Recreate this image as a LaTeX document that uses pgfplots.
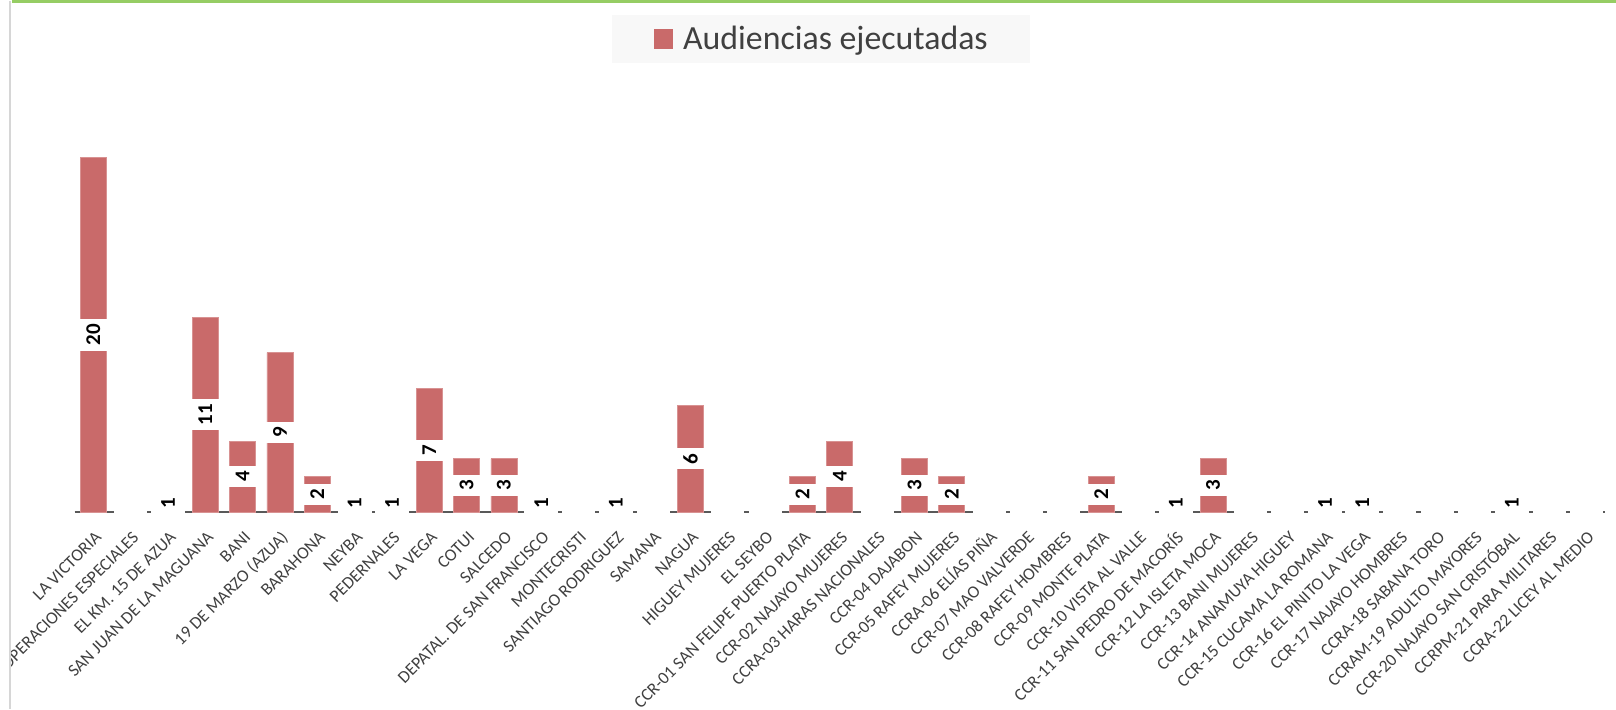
\documentclass[border=0pt]{standalone}
\usepackage{pgfplots}
\pgfplotsset{compat=1.18}
\usepackage{pgfplotstable}
\usepackage{fontspec}
\setmainfont{Carlito}
\definecolor{barc}{RGB}{201,106,106}
\definecolor{baredge}{RGB}{216,146,146}
\definecolor{axisc}{RGB}{89,89,89}
\definecolor{txt}{RGB}{64,64,64}
\definecolor{greenl}{RGB}{150,205,100}
\definecolor{leftl}{RGB}{214,214,214}
\definecolor{legfill}{RGB}{248,248,248}

\pgfplotstableread{
x v
0 20
1 0
2 1
3 11
4 4
5 9
6 2
7 1
8 1
9 7
10 3
11 3
12 1
13 0
14 1
15 0
16 6
17 0
18 0
19 2
20 4
21 0
22 3
23 2
24 0
25 0
26 0
27 2
28 0
29 1
30 3
31 0
32 0
33 1
34 1
35 0
36 0
37 0
38 1
39 0
40 0
}\data

\begin{document}
\begin{tikzpicture}
\useasboundingbox (0,0) rectangle (808pt,354.5pt);
\fill[white] (0,0) rectangle (808pt,354.5pt);
\begin{scope}
\clip (5.5pt,0) rectangle (808pt,354.5pt);
\begin{axis}[
  at={(37.35pt,98.5pt)}, anchor=south west,
  scale only axis, width=765.15pt, height=212.5pt,
  xmin=-0.5, xmax=40.5, ymin=0, ymax=24,
  clip=false,
  axis x line=bottom, axis y line=none,
  x axis line style={draw=axisc, line width=1.25pt, -},
  xtick={0,...,40}, ytick=\empty,
  xtick style={draw=none},
  xticklabels={LA VICTORIA,OPERACIONES ESPECIALES,EL KM. 15 DE AZUA,SAN JUAN DE LA MAGUANA,BANI,19 DE MARZO (AZUA),BARAHONA,NEYBA,PEDERNALES,LA VEGA,COTUI,SALCEDO,DEPATAL. DE SAN FRANCISCO,MONTECRISTI,SANTIAGO RODRIGUEZ,SAMANA,NAGUA,HIGUEY MUJERES,EL SEYBO,CCR-01 SAN FELIPE PUERTO PLATA,CCR-02 NAJAYO MUJERES,CCRA-03 HARAS NACIONALES,CCR-04 DAJABON,CCR-05 RAFEY MUJERES,CCRA-06 ELÍAS PIÑA,CCR-07 MAO VALVERDE,CCR-08 RAFEY HOMBRES,CCR-09 MONTE PLATA,CCR-10 VISTA AL VALLE,CCR-11 SAN PEDRO DE MACORÍS,CCR-12 LA ISLETA MOCA,CCR-13 BANI MUJERES,CCR-14 ANAMUYA HIGUEY,CCR-15 CUCAMA LA ROMANA,CCR-16 EL PINITO LA VEGA,CCR-17 NAJAYO HOMBRES,CCRA-18 SABANA TORO,CCRAM-19 ADULTO MAYORES,CCR-20 NAJAYO SAN CRISTÓBAL,CCRPM-21 PARA MILITARES,CCRA-22 LICEY AL MEDIO},
  xticklabel style={yshift=-6.5pt, rotate=45, anchor=north east, inner sep=0pt,
    font=\fontsize{8.7}{10}\selectfont, text=txt, text height=0.62em, text depth=0pt},
  legend style={at={(0.4877,1.113)}, anchor=center, draw=none, fill=legfill,
    inner xsep=21pt, inner ysep=5.5pt,
    font=\fontsize{16.9}{18}\selectfont,
    nodes={inner sep=0pt, text=txt},
    /tikz/every odd column/.append style={column sep=5pt}},
]
\addplot[ybar, bar width=13pt, fill=barc, draw=baredge, line width=0.4pt,
  y filter/.expression={y==0 ? nan : y},
  legend image code/.code={\fill[barc] (0pt,-4.75pt) rectangle (9pt,4.75pt);}]
  table[x=x,y=v]{\data};
\addlegendentry{Audiencias ejecutadas}
% value labels (white boxes at bar centres)
\addplot[forget plot, draw=none, mark=none,
  point meta=explicit symbolic,
  nodes near coords={\pgfplotspointmeta},
  nodes near coords style={rotate=90, anchor=center, fill=white,
    inner xsep=2.6pt, inner ysep=0pt, minimum height=17pt,
    font=\fontsize{10.5}{12}\selectfont\bfseries, text=black},
  y filter/.expression={y==0 ? nan : y}]
  table[x=x, y expr=\thisrow{v}/2, meta=v]{\data};
% empty labels of zero values
\addplot[forget plot, draw=none, mark=none,
  nodes near coords={},
  nodes near coords style={anchor=center, fill=white, inner sep=0pt,
    minimum width=16.5pt, minimum height=3pt},
  y filter/.expression={y==0 ? y : nan}]
  table[x=x, y=v]{\data};
\end{axis}
\end{scope}
\fill[greenl] (6pt,353pt) rectangle (808pt,354.5pt);
\fill[leftl] (4.5pt,0pt) rectangle (5.5pt,354pt);
\end{tikzpicture}
\end{document}
